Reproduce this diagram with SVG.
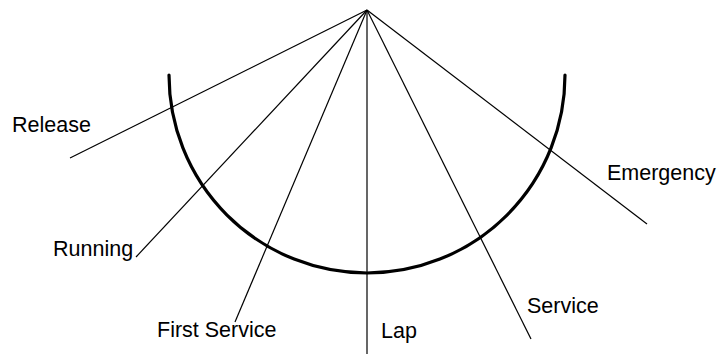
<svg xmlns="http://www.w3.org/2000/svg" width="722" height="354" viewBox="0 0 722 354">
<style>
.ln{stroke:#000;stroke-width:1.2;fill:none}
.arc{stroke:#000;stroke-width:3.2;fill:none;stroke-linecap:round}
.lbl{font-family:"Liberation Sans",Arial,sans-serif;font-size:21.5px;fill:#000}
</style>
<rect width="722" height="354" fill="#fff"/>
<g id="dial">
<path class="arc" d="M169 75 A198 198 0 0 0 565 75"/>
</g>
<g id="connectors">
<line class="ln" x1="367" y1="10" x2="70" y2="158"/>
<line class="ln" x1="367" y1="10" x2="136" y2="257"/>
<line class="ln" x1="367" y1="10" x2="235" y2="322"/>
<line class="ln" x1="367" y1="10" x2="367" y2="354"/>
<line class="ln" x1="367" y1="10" x2="531" y2="339"/>
<line class="ln" x1="367" y1="10" x2="647" y2="224"/>
</g>
<g id="release"><text class="lbl" x="12" y="132">Release</text></g>
<g id="running"><text class="lbl" x="53" y="256">Running</text></g>
<g id="first-service"><text class="lbl" x="157" y="337">First Service</text></g>
<g id="lap"><text class="lbl" x="381" y="338">Lap</text></g>
<g id="service"><text class="lbl" x="527" y="313">Service</text></g>
<g id="emergency"><text class="lbl" x="607" y="180">Emergency</text></g>
</svg>
